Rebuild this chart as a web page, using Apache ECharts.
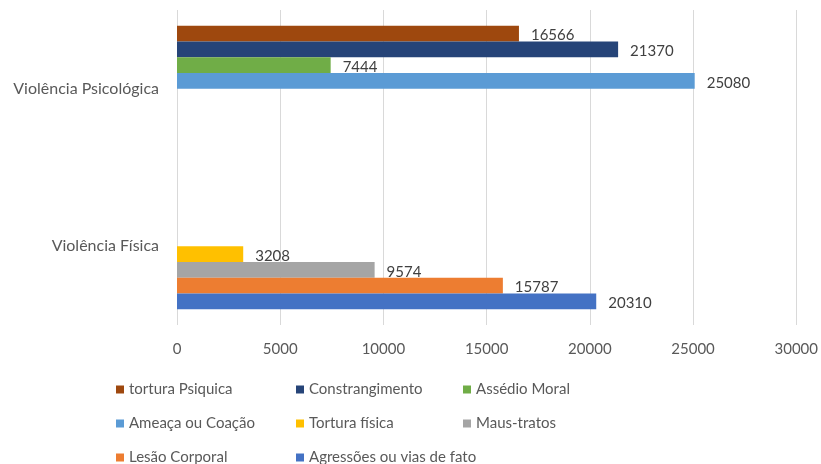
<!DOCTYPE html>
<html>
<head>
<meta charset="utf-8">
<script src="https://cdn.jsdelivr.net/npm/echarts@6/dist/echarts.min.js"></script>
<style>
  html, body { margin: 0; padding: 0; background: #fff; }
  #mycharts { width: 821px; height: 464px; }
</style>
</head>
<body>
<div id="mycharts"></div>
<script>
// categories, bottom to top as on the axis
const categories = ['Violência Física', 'Violência Psicológica'];

// one array per series: [Física, Psicológica]
const torturaPsiquica = [null, 16566];
const constrangimento = [null, 21370];
const assedioMoral = [null, 7444];
const ameaca = [null, 25080];
const torturaFisica = [3208, null];
const mausTratos = [9574, null];
const lesaoCorporal = [15787, null];
const agressoes = [20310, null];

const xTicks = [0, 5000, 10000, 15000, 20000, 25000, 30000];

// series listed from top slot to bottom slot (same as legend order)
const seriesDefs = [
  { name: 'tortura Psiquica', data: torturaPsiquica, color: '#9E480E' },
  { name: 'Constrangimento', data: constrangimento, color: '#264478' },
  { name: 'Assédio Moral', data: assedioMoral, color: '#70AD47' },
  { name: 'Ameaça ou Coação', data: ameaca, color: '#5B9BD5' },
  { name: 'Tortura física', data: torturaFisica, color: '#FFC000' },
  { name: 'Maus-tratos', data: mausTratos, color: '#A5A5A5' },
  { name: 'Lesão Corporal', data: lesaoCorporal, color: '#ED7D31' },
  { name: 'Agressões ou vias de fato', data: agressoes, color: '#4472C4' }
];

const font = 'Lato';
const legendCols = [116, 296, 463];
const legendRows = [382, 416, 450];

// one small legend per entry so the 3-column grid lines up like the original
const legends = seriesDefs.map(function (s, i) {
  return {
    left: legendCols[i % 3],
    top: legendRows[Math.floor(i / 3)],
    padding: 0,
    itemWidth: 8,
    itemHeight: 8,
    itemGap: 4,
    icon: 'rect',
    textStyle: { color: '#595959', fontSize: 15, fontFamily: font },
    data: [s.name]
  };
});

const mCharts = echarts.init(document.getElementById('mycharts'));
const option = {
  animation: false,
  textStyle: { fontFamily: font },
  grid: { left: 177, right: 21, top: 10, bottom: 139, containLabel: false },
  legend: legends,
  xAxis: {
    type: 'value',
    min: xTicks[0],
    max: xTicks[xTicks.length - 1],
    interval: 5000,
    axisLine: { show: false },
    axisTick: { show: false },
    axisLabel: {
      color: '#595959', fontSize: 15, fontFamily: font, margin: 17,
      formatter: function (v) { return String(v); }
    },
    splitLine: { show: true, lineStyle: { color: '#D9D9D9', width: 1 } }
  },
  yAxis: {
    type: 'category',
    data: categories,
    axisLine: { show: false },
    axisTick: { show: false },
    axisLabel: { color: '#595959', fontSize: 16, fontFamily: font, margin: 18 },
    splitLine: { show: false }
  },
  series: seriesDefs.map(function (s) {
    return {
      name: s.name,
      type: 'bar',
      data: s.data,
      barGap: '0%',
      barCategoryGap: '20%',
      itemStyle: { color: s.color },
      label: {
        show: true,
        position: 'right',
        distance: 12,
        color: '#404040',
        fontSize: 15,
        fontFamily: font,
        offset: [0, 2]
      }
    };
  })
};
mCharts.setOption(option);
</script>
</body>
</html>
